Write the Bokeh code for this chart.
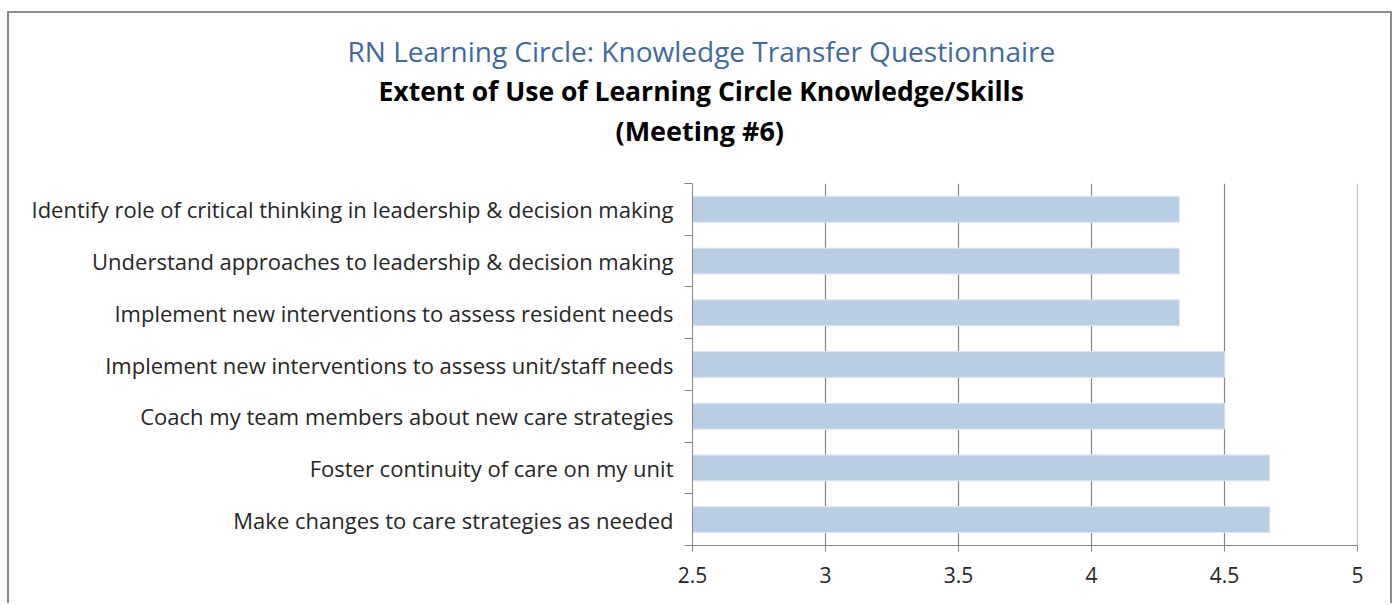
from bokeh.plotting import figure
from bokeh.models import Range1d, FixedTicker, Title, Span
from bokeh.embed import file_html
from bokeh.resources import INLINE

title_text = "RN Learning Circle: Knowledge Transfer Questionnaire"
subtitle_text = "Extent of Use of Learning Circle Knowledge/Skills"
meeting_text = "(Meeting #6)"

categories = [
    "Identify role of critical thinking in leadership & decision making",
    "Understand approaches to leadership & decision making",
    "Implement new interventions to assess resident needs",
    "Implement new interventions to assess unit/staff needs",
    "Coach my team members about new care strategies",
    "Foster continuity of care on my unit",
    "Make changes to care strategies as needed",
]
values = [4.33, 4.33, 4.33, 4.5, 4.5, 4.67, 4.67]
x_ticks = [2.5, 3, 3.5, 4, 4.5, 5]

n = len(categories)
ypos = [n - 1 - i for i in range(n)]

FONT = "Open Sans"
GRAY = "#868686"
TEXT = "#262626"

p = figure(width=1385, height=592, output_backend="svg", toolbar_location=None,
           x_range=Range1d(2.5, 5), y_range=Range1d(-0.5, n - 0.5),
           min_border_left=683, min_border_right=37, min_border_top=170, min_border_bottom=60)
p.styles = {"margin-left": "7px", "margin-top": "11px",
            "border-left": "2px solid #8C8C8C", "border-top": "2px solid #8C8C8C",
            "border-right": "2px solid #8C8C8C"}
p.outline_line_color = None
p.background_fill_color = "white"
p.border_fill_color = "white"

p.hbar(y=ypos, left=2.5, right=values, height=0.5, fill_color="#B9CDE5", line_color="#DCE6F2", line_width=1)

# x axis
p.xaxis.ticker = FixedTicker(ticks=x_ticks)
p.xaxis.axis_line_color = GRAY
p.xaxis.major_tick_line_color = GRAY
p.xaxis.major_tick_out = 6
p.xaxis.major_tick_in = 0
p.xaxis.minor_tick_line_color = None
p.xaxis.major_label_text_font = FONT
p.xaxis.major_label_text_font_size = "21px"
p.xaxis.major_label_text_color = TEXT
p.xaxis.major_label_standoff = 15

# y axis
p.yaxis.ticker = FixedTicker(ticks=ypos, minor_ticks=[v - 0.5 for v in range(n + 1)])
p.yaxis.major_label_overrides = {yv: c for yv, c in zip(ypos, categories)}
p.yaxis.axis_line_color = GRAY
p.yaxis.major_tick_line_color = None
p.yaxis.minor_tick_line_color = GRAY
p.yaxis.minor_tick_out = 8
p.yaxis.minor_tick_in = 0
p.yaxis.major_label_text_font = FONT
p.yaxis.major_label_text_font_size = "22px"
p.yaxis.major_label_text_color = TEXT
p.yaxis.major_label_standoff = 11

p.xgrid.grid_line_color = GRAY
p.xgrid.grid_line_width = 1.2
p.ygrid.grid_line_color = None
p.add_layout(Span(location=5, dimension="height", line_color=GRAY, line_width=1.2))

# titles (added from nearest the plot outward)
p.add_layout(Title(text=" ", text_font_size="20px"), "above")
p.add_layout(Title(text=meeting_text, align="left", offset=-77, standoff=1, text_font=FONT,
                   text_font_size="27px", text_font_style="bold", text_color="#000000"), "above")
p.add_layout(Title(text=subtitle_text, align="left", offset=-314, standoff=1, text_font=FONT,
                   text_font_size="26.5px", text_font_style="bold", text_color="#000000"), "above")
p.add_layout(Title(text=title_text, align="left", offset=-345, standoff=1, text_font=FONT,
                   text_font_size="28px", text_font_style="normal", text_color="#41699E"), "above")

open("out.html", "w").write(file_html(p, INLINE))
